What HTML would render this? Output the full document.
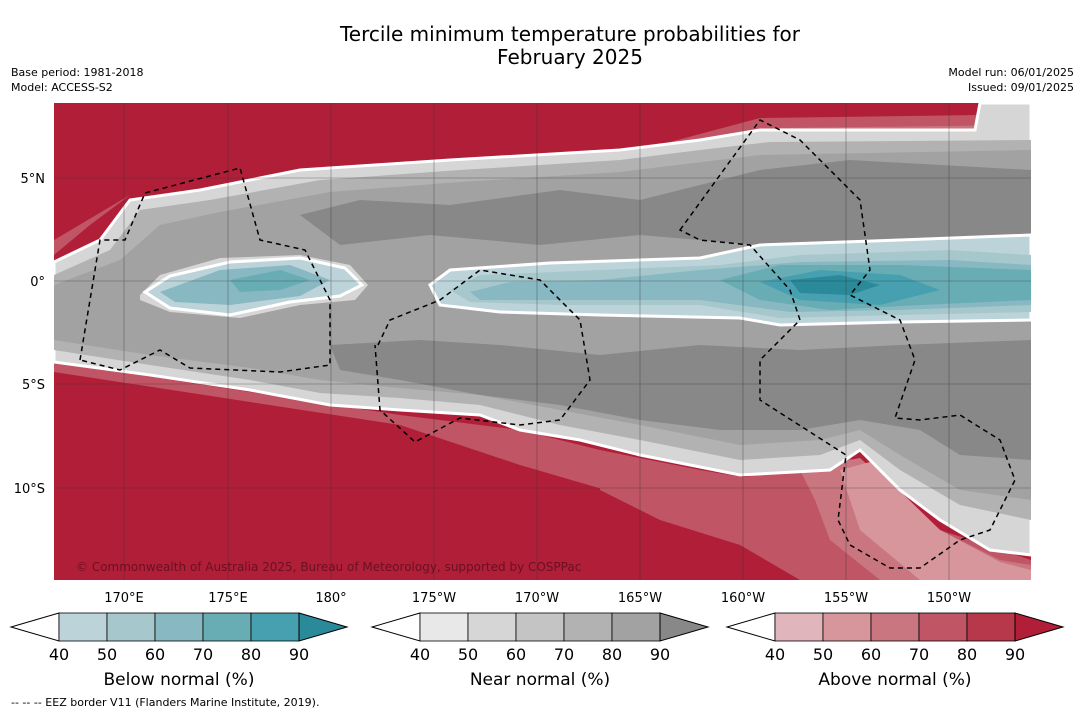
<!DOCTYPE html>
<html><head><meta charset="utf-8">
<style>
body{margin:0;background:#fff;width:1085px;height:713px;overflow:hidden;font-family:"DejaVu Sans","Liberation Sans",sans-serif;}
svg text{font-family:"DejaVu Sans","Liberation Sans",sans-serif;}
</style></head>
<body>
<svg width="1085" height="713" viewBox="0 0 1085 713">
<text x="570" y="41" font-size="20" text-anchor="middle">Tercile minimum temperature probabilities for</text>
<text x="570" y="64" font-size="20" text-anchor="middle">February 2025</text>
<text x="11" y="76" font-size="11">Base period: 1981-2018</text>
<text x="11" y="91" font-size="11">Model: ACCESS-S2</text>
<text x="1074" y="76" font-size="11" text-anchor="end">Model run: 06/01/2025</text>
<text x="1074" y="91" font-size="11" text-anchor="end">Issued: 09/01/2025</text>

<defs><clipPath id="mc"><rect x="54" y="103" width="977" height="477"/></clipPath></defs>
<g clip-path="url(#mc)">
<rect x="54" y="103" width="977" height="477" fill="#b01e38"/>
<!-- lighter red bands top -->
<path d="M640,150 L760,118 L980,115 L980,103 L1031,103 L1031,160 L640,160 Z" fill="#c05565"/>
<path d="M700,145 L780,128 L1031,125 L1031,160 L700,160Z" fill="#c97680"/>
<path d="M980,103 L1031,103 L1031,140 L975,140Z" fill="#e0b5bb"/>
<path d="M54,255 L90,225 L130,195 L54,240Z" fill="#c05565"/>
<!-- lighter reds bottom -->
<path d="M54,362 L250,392 L400,415 L520,430 L640,460 L760,480 L860,458 L950,540 L1031,565 L1031,580 L880,580 L760,530 L640,500 L520,465 L400,425 L250,402 L54,372Z" fill="#c05565"/>
<path d="M600,450 L740,478 L850,458 L940,530 L1031,560 L1031,580 L800,580 L740,545 L660,520 L600,490Z" fill="#c05565"/>
<path d="M800,470 L860,458 L940,530 L1000,560 L1031,565 L1031,580 L880,580 L830,540 L815,500Z" fill="#c97680"/>
<path d="M840,470 L870,462 L940,530 L1000,562 L1031,570 L1031,580 L920,580 L860,530Z" fill="#d7959c"/>
<!-- grey band with white edge -->
<path d="M54,262 L100,240 L130,200 L200,190 L300,170 L450,160 L620,150 L700,140 L760,130 L975,130 L980,103 L1031,103 L1031,555 L990,550 L940,520 L900,490 L860,450 L830,470 L740,475 L640,455 L580,440 L520,430 L480,415 L400,410 L330,405 L250,390 L150,375 L54,362 Z" fill="#d6d6d6" stroke="#fff" stroke-width="3"/>
<path d="M54,275 L110,250 L140,210 L210,200 L320,180 L460,170 L620,160 L700,150 L770,142 L1031,140 L1031,520 L960,505 L900,470 L860,440 L820,455 L740,460 L640,440 L560,425 L480,405 L400,398 L320,393 L250,380 L150,365 L54,350Z" fill="#b2b2b2"/>
<path d="M54,285 L120,260 L160,225 L220,212 L330,192 L460,182 L620,172 L760,155 L1031,150 L1031,500 L960,490 L900,455 L860,430 L820,440 L740,445 L640,425 L560,410 L480,395 L400,388 L320,380 L250,368 L150,355 L54,340Z" fill="#a2a2a2"/>
<!-- dark grey blobs -->
<path d="M300,215 L360,200 L450,205 L560,190 L640,200 L700,185 L760,170 L850,160 L1031,170 L1031,235 L900,240 L760,245 L640,235 L540,245 L430,235 L340,245 Z" fill="#888"/>
<path d="M330,345 L420,340 L500,345 L600,355 L700,345 L800,350 L900,345 L1031,340 L1031,460 L960,455 L920,430 L860,420 L800,430 L720,430 L640,420 L560,405 L480,395 L400,380 L340,370Z" fill="#888"/>
<!-- blue left -->
<path d="M140,295 L160,275 L220,258 L300,255 L350,265 L368,285 L355,300 L300,305 L240,318 L170,312 L140,300Z" fill="#d6d6d6"/>
<path d="M145,292 L170,276 L230,262 L300,258 L345,268 L362,285 L340,296 L290,302 L230,315 L170,308 Z" fill="#bcd4d9" stroke="#fff" stroke-width="3"/>
<path d="M160,292 L220,270 L290,265 L330,280 L300,296 L230,305 L175,302Z" fill="#88b8c2"/>
<path d="M230,280 L280,270 L310,280 L280,290 L240,292Z" fill="#68acb4"/>
<!-- blue right -->
<path d="M430,285 L450,270 L550,263 L700,258 L760,245 L900,240 L1031,235 L1031,320 L900,322 L780,325 L740,318 L600,315 L500,312 L440,305Z" fill="#bcd4d9" stroke="#fff" stroke-width="3"/>
<path d="M450,290 L480,275 L600,270 L720,265 L800,255 L950,250 L1031,255 L1031,312 L900,315 L780,318 L700,305 L560,305 L470,302Z" fill="#a6c8cc"/>
<path d="M470,292 L510,282 L600,280 L700,270 L800,262 L950,260 L1031,265 L1031,305 L900,310 L790,312 L700,300 L560,300 L480,300Z" fill="#88b8c2"/>
<path d="M720,280 L780,265 L900,265 L1031,270 L1031,300 L920,305 L830,310 L760,300Z" fill="#68acb4"/>
<path d="M760,282 L820,270 L900,275 L940,290 L880,305 L800,300Z" fill="#47a0b0"/>
<path d="M790,280 L840,275 L880,285 L850,295 L800,293Z" fill="#2a8a9a"/>
<!-- grid -->
<g stroke="#333" stroke-width="0.6" opacity="0.6">
<line x1="124" y1="103" x2="124" y2="580"/><line x1="228" y1="103" x2="228" y2="580"/><line x1="331" y1="103" x2="331" y2="580"/>
<line x1="434" y1="103" x2="434" y2="580"/><line x1="537" y1="103" x2="537" y2="580"/><line x1="640" y1="103" x2="640" y2="580"/>
<line x1="743" y1="103" x2="743" y2="580"/><line x1="846" y1="103" x2="846" y2="580"/><line x1="949" y1="103" x2="949" y2="580"/>
<line x1="54" y1="178" x2="1031" y2="178"/><line x1="54" y1="281" x2="1031" y2="281"/><line x1="54" y1="384" x2="1031" y2="384"/><line x1="54" y1="488" x2="1031" y2="488"/>
</g>
<!-- EEZ borders -->
<g fill="none" stroke="#000" stroke-width="1.5" stroke-dasharray="5,4">
<path d="M80,360 L100,240 L125,240 L145,193 L240,168 L260,240 L305,250 L330,300 L330,365 L280,372 L190,368 L160,350 L120,370 L80,360"/>
<path d="M378,345 L390,320 L440,300 L480,270 L540,280 L580,320 L590,380 L560,420 L520,425 L460,418 L415,442 L380,410 L375,345"/>
<path d="M680,230 L760,120 L800,140 L860,200 L870,270 L850,295 L900,320 L915,360 L895,418 L920,420 L960,415 L1000,440 L1015,480 L990,530 L960,540 L920,568 L890,568 L850,545 L838,520 L846,455 L760,400 L760,360 L800,320 L790,290 L750,245 L700,240 Z"/>
</g>
<text x="76" y="571" font-size="12" fill="#5a0d1d" opacity="0.8">© Commonwealth of Australia 2025, Bureau of Meteorology, supported by COSPPac</text>
</g>

<!-- axis labels -->
<g font-size="13">
<text x="45" y="183" text-anchor="end">5°N</text><text x="45" y="286" text-anchor="end">0°</text>
<text x="45" y="389" text-anchor="end">5°S</text><text x="45" y="493" text-anchor="end">10°S</text>
<g text-anchor="middle">
<text x="124" y="602">170°E</text><text x="228" y="602">175°E</text><text x="331" y="602">180°</text>
<text x="434" y="602">175°W</text><text x="537" y="602">170°W</text><text x="640" y="602">165°W</text>
<text x="743" y="602">160°W</text><text x="846" y="602">155°W</text><text x="949" y="602">150°W</text>
</g></g>

<g id="cbars"></g>
<text x="11" y="706" font-size="11">-- -- -- EEZ border V11 (Flanders Marine Institute, 2019).</text>
</svg>
<script>
const levels=[40,50,60,70,80,90];
const belowColors=["#bcd4d9","#a6c8cc","#88b8c2","#68acb4","#47a0b0","#2a8a9a"];
const nearColors=["#e8e8e8","#d6d6d6","#c4c4c4","#b2b2b2","#a2a2a2","#888888"];
const aboveColors=["#e0b5bb","#d7959c","#c97680","#c05565","#b8384b","#b01e38"];
const titles=["Below normal (%)","Near normal (%)","Above normal (%)"];
const starts=[59,420,775];
const ns="http://www.w3.org/2000/svg";
const g=document.getElementById('cbars');
[belowColors,nearColors,aboveColors].forEach((cols,i)=>{
 const x0=starts[i],w=48,y=613,h=28;
 const grp=document.createElementNS(ns,'g');
 
 
 const lt=document.createElementNS(ns,'polygon');
 lt.setAttribute('points',`${x0},${y} ${x0-48},${y+h/2} ${x0},${y+h}`);
 lt.setAttribute('fill','#fff');lt.setAttribute('stroke','#000');
 grp.appendChild(lt);
 for(let k=0;k<5;k++){
  const r=document.createElementNS(ns,'rect');
  
  
  r.setAttribute('x',x0+k*w);r.setAttribute('y',y);r.setAttribute('width',w);r.setAttribute('height',h);
  r.setAttribute('fill',cols[k]);r.setAttribute('stroke','#000');r.setAttribute('stroke-width','0.8');
  grp.appendChild(r);
 }
 const xe=x0+5*w;
 const rt=document.createElementNS(ns,'polygon');
 rt.setAttribute('points',`${xe},${y} ${xe+48},${y+h/2} ${xe},${y+h}`);
 rt.setAttribute('fill',cols[5]);rt.setAttribute('stroke','#000');
 grp.appendChild(rt);
 levels.forEach((lv,k)=>{
  const t=document.createElementNS(ns,'text');
  
  
  t.setAttribute('x',x0+k*w);t.setAttribute('y',660);t.setAttribute('font-size','16');t.setAttribute('text-anchor','middle');
  t.textContent=lv;grp.appendChild(t);
 });
 const tt=document.createElementNS(ns,'text');
 
 
 tt.setAttribute('x',x0+120);tt.setAttribute('y',685);tt.setAttribute('font-size','17');tt.setAttribute('text-anchor','middle');
 tt.textContent=titles[i];grp.appendChild(tt);
 g.appendChild(grp);
});
</script>
</body></html>
